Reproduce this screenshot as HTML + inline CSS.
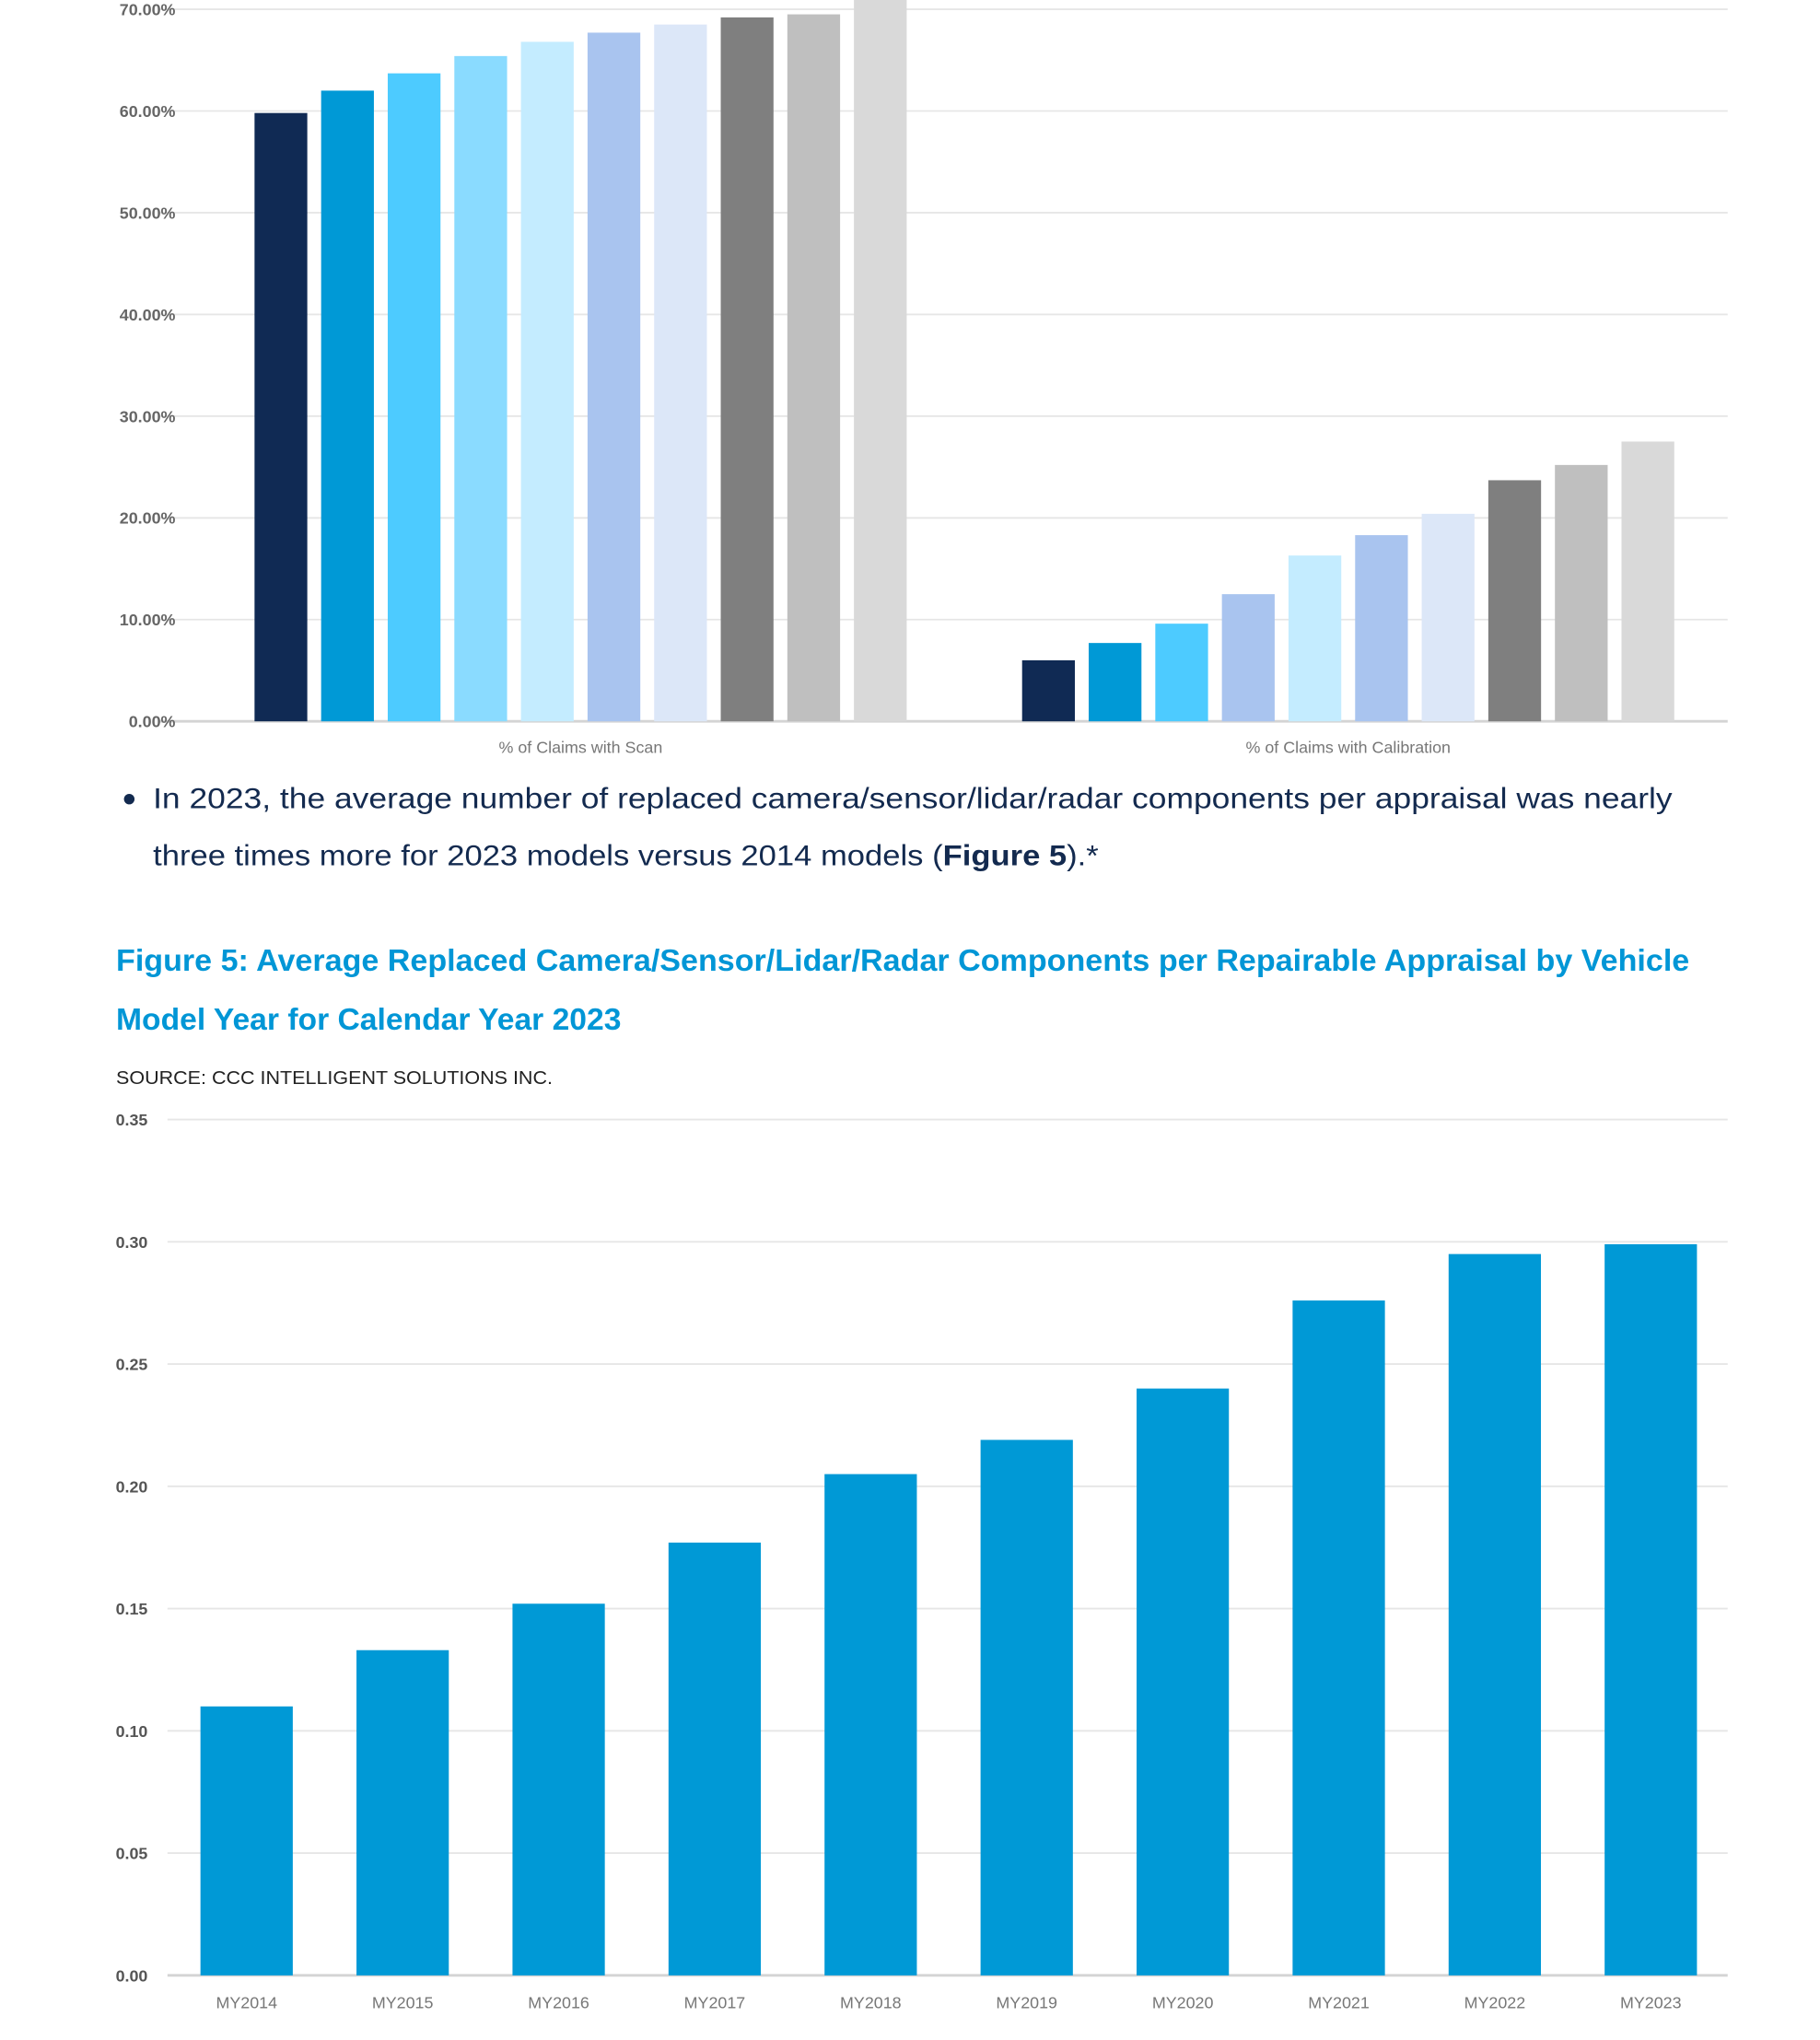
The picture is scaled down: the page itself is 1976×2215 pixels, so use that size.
<!DOCTYPE html>
<html><head><meta charset="utf-8"><style>
html,body{margin:0;padding:0;background:#fff;}
svg{display:block;}
</style></head><body>
<svg id="page" width="1976" height="2215" viewBox="0 0 1380 1547" preserveAspectRatio="none" xmlns="http://www.w3.org/2000/svg">
<g id="chart1"></g>
<g font-family="Liberation Sans, sans-serif" fill="#132a4f" font-size="22">
  <circle cx="98" cy="606" r="4" fill="#132a4f"/>
  <text x="116" y="613" textLength="1152" lengthAdjust="spacingAndGlyphs">In 2023, the average number of replaced camera/sensor/lidar/radar components per appraisal was nearly</text>
  <text x="116" y="656" textLength="717" lengthAdjust="spacingAndGlyphs">three times more for 2023 models versus 2014 models (<tspan font-weight="bold">Figure 5</tspan>).*</text>
</g>
<g font-family="Liberation Sans, sans-serif" fill="#0096d6" font-size="23" font-weight="bold">
  <text x="88" y="736" textLength="1193" lengthAdjust="spacingAndGlyphs">Figure 5: Average Replaced Camera/Sensor/Lidar/Radar Components per Repairable Appraisal by Vehicle</text>
  <text x="88" y="781" textLength="383" lengthAdjust="spacingAndGlyphs">Model Year for Calendar Year 2023</text>
</g>
<text x="88" y="822" font-family="Liberation Sans, sans-serif" font-size="14.5" fill="#222" textLength="331" lengthAdjust="spacingAndGlyphs">SOURCE: CCC INTELLIGENT SOLUTIONS INC.</text>
<g id="chart2"></g>
</svg>
<script>
// Chart 1 data
const groups1 = ["% of Claims with Scan", "% of Claims with Calibration"];
const scanValues = [59.8, 62.0, 63.7, 65.4, 66.8, 67.7, 68.5, 69.2, 69.5, 70.95];
const calibValues = [6.0, 7.7, 9.6, 12.5, 16.3, 18.3, 20.4, 23.7, 25.2, 27.5];
const ticks1 = [0, 10, 20, 30, 40, 50, 60, 70];
const tickLabels1 = ["0.00%", "10.00%", "20.00%", "30.00%", "40.00%", "50.00%", "60.00%", "70.00%"];
const colors1 = ["#102a54", "#0099d6", "#4dcbff", "#8adbff", "#c4ecff", "#a9c4ef", "#dce7f8", "#7f7f7f", "#bfbfbf", "#d9d9d9"];
const colors1b = ["#102a54", "#0099d6", "#4dcbff", "#a9c4ef", "#c4ecff", "#a9c4ef", "#dce7f8", "#7f7f7f", "#bfbfbf", "#d9d9d9"];
// Chart 2 data
const categories2 = ["MY2014", "MY2015", "MY2016", "MY2017", "MY2018", "MY2019", "MY2020", "MY2021", "MY2022", "MY2023"];
const values2 = [0.110, 0.133, 0.152, 0.177, 0.205, 0.219, 0.240, 0.276, 0.295, 0.299];
const ticks2 = [0, 0.05, 0.10, 0.15, 0.20, 0.25, 0.30, 0.35];
const tickLabels2 = ["0.00", "0.05", "0.10", "0.15", "0.20", "0.25", "0.30", "0.35"];

const NS = "http://www.w3.org/2000/svg";
function mk(tag, attrs, parent) {
  const e = document.createElementNS(NS, tag);
  for (const k in attrs) e.setAttribute(k, attrs[k]);
  parent.appendChild(e);
  return e;
}
// ---- Chart 1
const c1 = document.getElementById("chart1");
const y1 = v => 547 - v * 7.714;
ticks1.forEach((t, i) => {
  const l = mk("line", {x1: 120, x2: 1310, y1: y1(t), y2: y1(t), stroke: i === 0 ? "#d4d4d4" : "#e6e6e6", "stroke-width": i === 0 ? 2 : 1.3}, c1);
  
  
  const tx = mk("text", {x: 133, y: y1(t) + 4.5, "text-anchor": "end", "font-family": "Liberation Sans, sans-serif", "font-size": 12.5, "font-weight": "bold", fill: "#666"}, c1);
  tx.textContent = tickLabels1[i];
  
  
});
const groupStart = [193, 775];
const series1 = [scanValues, calibValues];
const palettes = [colors1, colors1b];
series1.forEach((vals, g) => {
  vals.forEach((v, i) => {
    const r = mk("rect", {x: groupStart[g] + i * 50.5, y: y1(v), width: 40, height: 547 - y1(v), fill: palettes[g][i]}, c1);
    
    
  });
  const lab = mk("text", {x: groupStart[g] + 4.5 * 50.5 + 20, y: 571, "text-anchor": "middle", "font-family": "Liberation Sans, sans-serif", "font-size": 12.5, fill: "#777"}, c1);
  lab.textContent = groups1[g];
  
  
});
// ---- Chart 2
const c2 = document.getElementById("chart2");
const y2 = v => 1498 - v * 1854.3;
ticks2.forEach((t, i) => {
  const l = mk("line", {x1: 127, x2: 1310, y1: y2(t), y2: y2(t), stroke: i === 0 ? "#d4d4d4" : "#e6e6e6", "stroke-width": i === 0 ? 2 : 1.3}, c2);
  
  
  const tx = mk("text", {x: 112, y: y2(t) + 4.5, "text-anchor": "end", "font-family": "Liberation Sans, sans-serif", "font-size": 12.5, "font-weight": "bold", fill: "#555"}, c2);
  tx.textContent = tickLabels2[i];
  
  
});
const x2 = i => 187 + i * 118.3;
values2.forEach((v, i) => {
  const r = mk("rect", {x: x2(i) - 35, y: y2(v), width: 70, height: 1498 - y2(v), fill: "#0099d6"}, c2);
  
  
  const lab = mk("text", {x: x2(i), y: 1523, "text-anchor": "middle", "font-family": "Liberation Sans, sans-serif", "font-size": 12.5, fill: "#777"}, c2);
  lab.textContent = categories2[i];
  
  
});
</script>
</body></html>
